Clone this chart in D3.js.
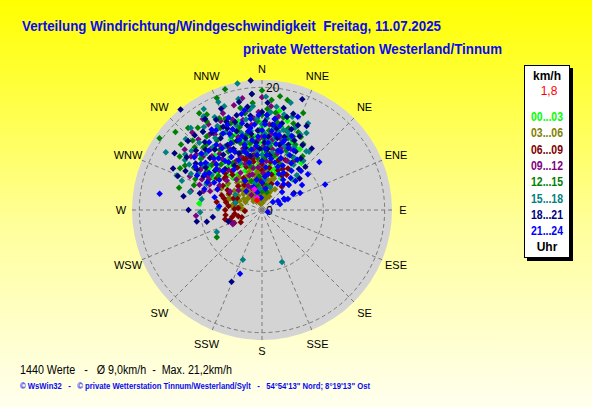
<!DOCTYPE html>
<html>
<head>
<meta charset="utf-8">
<script src="https://cdn.jsdelivr.net/npm/d3@7.9.0/dist/d3.min.js"></script>
<style>
  body { margin: 0; }
  svg { display: block; font-family: "Liberation Sans", Arial, sans-serif; }
  text { white-space: pre; }
</style>
</head>
<body>
<svg id="chart" width="592" height="407"></svg>
<script>
// hour groups, drawn in this order (last one ends up on top)
const hourLabels = ['00...03', '03...06', '06...09', '09...12', '12...15', '15...18', '18...21', '21...24'];
const hourColors = ['#00ff00', '#808000', '#800000', '#800080', '#008000', '#008080', '#000080', '#0000ff'];
const compass = ['N', 'NNE', 'NE', 'ENE', 'E', 'ESE', 'SE', 'SSE', 'S', 'SSW', 'SW', 'WSW', 'W', 'WNW', 'NW', 'NNW'];
const ringValues = [10, 20];
const ringLabels = [0, 20];
const maxSpeed = 21.2;
const currentSpeed = 1.8;

// [direction in degrees, speed km/h] per 3h block
const h00 = [[10,16.4],[16,15.1],[32,11.7],[347,10.7],[276,10.3],[319,11.8],[355,12],[358,11],[0,10],[2,9],[5,8.5],[357,13],[352,9.5],[348,8],[345,7],[340,6.5],[335,8],[330,9],[325,7],[320,6],[350,5],[355,6],[0,7],[5,6],[10,7.5],[15,9],[20,8],[25,10],[12,12],[8,13.5],[3,14],[358,14.5],[350,12.5],[343,11.5],[338,10],[332,11],[328,12],[322,10],[315,8],[310,9.5],[305,7],[300,8],[312,5],[340,4],[350,3.5],[0,4.5],[10,5],[18,6],[22,11],[28,9],[35,8],[40,10],[45,7],[15,3],[330,4.5],[345,15],[5,16],[0,12.5],[355,9],[348,10.5],
  [352,6.5],[356,7.5],[1,8],[4,9.5],[7,10.5],[11,11],[14,10],[17,7],[21,6.5],[26,7.5],[31,6],[36,10],[342,9],[337,7],[333,6],[327,8.5],[323,9],[318,7],[313,10],[308,11],[303,9.5],[298,10],[346,12],[341,13],[336,12.5],[0,13.5],[4,12],[9,11.5],[13,14],[19,13],[24,12],[29,11.5],[354,10.5],[359,5.5],[6,4],[12,6.5],[350,7],[345,9.5],[338,5.5],[328,10],
  [355,3],[5,2.5],[345,4],[15,4.5],[335,3.5]];
const h03 = [[350,2],[355,2.5],[345,3],[340,3.5],[335,2.5],[330,3],[325,4],[320,3.5],[315,4.5],[310,5],[305,5.5],[300,5],[295,6],[290,5.5],[287,5.8],[285,6],[352,4],[358,3],[2,2],[5,3.5],[10,2.5],[15,3],[20,2],[25,3.5],[0,1.5],[345,1.5],[330,1.8],[340,5],[350,5.5],[0,5],[355,6.5],[345,7],[335,6],[325,6.5],[318,6],[308,7],[298,7.5],[5,4.5],[12,4],[348,4.5],[338,4],[328,5],[322,5],[312,3],[302,3.5],[292,4],[280,4.5],[275,3.5],[270,3],[0,3],[7,5.5],[2,7],[357,8],[347,8.5],[337,9],
  [348,1],[353,1.2],[0,2.5],[3,1.2],[8,1.8],[12,3],[18,4.5],[22,3],[28,2.5],[32,4],[341,2],[336,1.5],[331,2.2],[326,3],[321,2.5],[316,2],[311,4],[306,3],[301,4.5],[296,3],[291,5],[286,4.5],[282,3.5],[278,5],[356,4.5],[351,6],[346,5],[341,6.5],[336,5],[331,6],[326,5.5],[321,4.5],[316,5.5],[1,6],[6,6.5],[11,5],[16,5],[21,5.5],[343,4],[333,3.5]];
const h06 = [[256,6.2],[257,5],[267,2.8],[275,3.9],[262,4.5],[250,3.5],[245,5],[240,4],[262,6],[255,4],[252,5.5],[272,4.5],[277,5.5],[282,6],[287,6.5],[292,5],[297,6],[270,6],[280,7.5],[290,7],[300,6.5],[285,4.5],[295,4.5],[302,7.5],[312,8],[310,8],[305,9],[295,8],
  [330,6],[340,7.5],[350,8.5],[0,6.5],[10,7],[20,4.5],[30,6.5],[345,3.5],[5,4],[315,5.5],[325,5],[355,5],[15,6],
  [340,9],[330,8],[320,7.5],[350,8],[0,7.5],[10,8],[18,8.5],[25,9],[5,9.5],[355,10],[345,9],[335,8.5],[325,9.5],[315,8.5],[33,9.5],[342,8.5],[352,9],[2,8.5],[12,9],[332,9],[322,8],[40,5],[35,7],[45,6],[27,7.5],[32,8],[22,7]];
const h09 = [[350,18.5],[327,17.7],[0,18.4],[345,17.7],[244,5.3],[265,10.8],[246,5.2],[300,10],[305,12],[310,14],[315,11],[320,13],[325,15],[330,10],[335,12],[340,14],[345,11],[350,13],[355,15],[0,12],[5,14],[10,10],[15,12],[20,9],[25,11],[340,8],[330,7],[320,8.5],[310,7.5],[300,8],[290,9],[285,12],[295,13],[350,9],[0,8],[358,16],[352,16.5],[342,15.5],[335,16],[328,14.5],[318,15.5],[308,16],[5,17],[10,15.5],[2,6],[345,6],[335,4],[325,3],[312,11],[302,10.5],[292,11],[338,9.5],[348,7],[8,11.5],[18,13.5],
  [352,10],[357,11.5],[2,10.5],[7,12.5],[12,13],[17,10.5],[22,11],[27,9],[342,12.5],[337,13.5],[332,11.5],[327,12.5],[322,10.5],[317,12],[312,13],[307,14.5],[302,13],[297,11],[347,9],[343,10.5],[333,9],[323,11.5],[313,9.5],[303,12],[296,9.5],[288,10],[355,7],[5,8],[15,9.5],[340,6],[330,5.5],[320,6.5],[310,5],[300,6],[353,14],[3,15.5],[348,15],[338,17],[328,16.5],[318,17],
  [350,3],[330,4.5],[5,3.5]];
const h12 = [[343,20.6],[338,19.7],[305,20.4],[309,17],[327,18.8],[290,11.8],[239,8.6],[9,18.8],[13,18.4],[23,17.2],[32,12.7],[330,18],[335,16.5],[340,15],[345,14],[350,16],[355,17.5],[0,15.5],[5,13],[10,14.5],[15,11],[20,12.5],[25,14],[30,10],[320,14],[315,16],[310,13],[305,11],[300,14.5],[295,12],[325,12],[330,11],[340,10],[350,11],[0,10],[358,13],[348,12.5],[338,13],[328,9],[318,10],[308,9],[12,9],[22,8],[2,8.5],[355,19],[0,19.5],[5,18],[20,15],[318,18],[322,17],[312,19],[297,15],[285,14],
  [352,12],[357,14.5],[2,11.5],[7,10.5],[12,12.5],[17,13.5],[22,10.5],[27,12],[32,9],[37,11],[342,11.5],[337,12],[332,14],[327,13.5],[322,12.5],[317,14],[312,11],[307,12.5],[302,13],[297,10],[347,10],[343,13.5],[333,15],[323,15],[313,15],[303,16],[353,15],[3,16.5],[8,16],[13,15.5],[18,14],[23,13],[28,13.5],[348,17],[338,16],[328,17],[355,8.5],[5,9.5],[345,7.5],[335,9],
  [350,4],[0,3],[340,5],[10,4],[345,2.5],[355,5.5],[15,3]];
const h15 = [[349,21],[301,18.3],[292,15],[290,13.9],[319,17.7],[306,15.5],[27,13.8],[30,14.5],[201,8.7],[159,9.1],[244,8.2],[268,10.1],[32,12.5],[39,12.2],[15,18.1],[284,12.1],[272,7.2],[285,4.5],[355,17],[350,15],[345,13],[340,16],[335,14],[330,12],[325,16.5],[320,11],[315,13],[310,15],[305,10],[300,12],[0,14],[5,16],[10,12],[15,13.5],[20,11],[25,10],[35,9],[45,8],[355,11],[345,10],[335,10.5],[0,9],[10,9.5],[20,13],[340,18],[330,19],[2,18.5],[310,11.5],[295,10],[280,10],[18,16],[8,15],[28,16],
  [352,13],[357,15],[2,12.5],[7,11],[12,13],[17,12],[22,14.5],[27,11.5],[32,10],[37,12],[342,12],[337,13],[332,15.5],[327,14],[322,13],[317,15],[312,13.5],[307,12],[302,14],[297,13],[347,11.5],[343,14.5],[333,17],[323,16],[313,17],[303,15],[353,16.5],[3,15],[8,17],[13,16],[18,13.5],[23,12.5],[40,10.5],[348,18.5],[338,19],[328,18],[355,9.5],[5,10.5],[345,8],[335,8.5],
  [345,4.5],[355,3.5],[5,5],[20,4],[300,5]];
const h18 = [[355,21.2],[321,21.1],[292,14.8],[318,16.4],[305,13.2],[260,10.8],[258,9.2],[262,8.1],[251,5.8],[203,12.7],[20,19.2],[15,15.7],[39,12.9],[62,5.9],[338,17.8],[355,19],[350,14],[345,16],[340,12],[335,15],[330,13.5],[325,11],[320,14.5],[315,12],[310,10],[305,15],[300,11],[0,16],[5,12],[10,13.5],[15,11],[20,14],[25,12.5],[30,11],[358,10],[348,9],[338,10],[328,8.5],[318,9],[8,9],[2,14.5],[352,17],[12,17],[28,15.5],[295,16],[285,10.5],[280,13],[270,12],[45,10],[50,8],
  [352,12.5],[357,13],[2,11],[7,14],[12,12],[17,12.5],[22,11.5],[27,13.5],[32,12.5],[37,10.5],[342,13.5],[337,14.5],[332,12],[327,15],[322,12.5],[317,13.5],[312,14.5],[307,11.5],[302,12.5],[297,14],[347,12],[343,15],[333,16.5],[323,16],[313,16.5],[303,17],[353,15.5],[3,17.5],[8,15],[13,14.5],[18,16.5],[23,15],[42,9],[348,18],[338,15.5],[328,17.5],[355,11],[5,10],[345,10.5],[335,11]];
const h21 = [[279,16.9],[50,12.2],[52,9.5],[68,11.1],[49,7.2],[66,6.8],[199,11],[21,16.3],[54,2.2],[72,3.1],[66,4.1],[67,4.6],[61,3],[48,4.4],[63,5.7],[108,1],[58,7.7],[63,4],[350,13],[345,11],[340,14],[335,12],[330,10],[325,13],[320,11],[315,9],[310,12],[305,10.5],[300,9],[0,13],[355,14],[5,11],[10,12.5],[15,10],[20,9],[25,8],[30,7],[35,6],[40,5.5],[45,9],[355,9],[350,10],[0,8],[5,7],[10,6],[345,8],[335,9],[325,8],[330,15],[340,16],[350,16.5],[358,15.5],[8,15],[12,14],[318,13],[308,14],[298,12],[290,10],[285,8],[275,7],[345,12.5],[352,11.5],[3,10],[2,12],[18,12],[28,11],[35,10],
  [352,13.5],[357,12],[2,14],[7,13],[12,11],[17,11.5],[22,13],[27,10],[32,9],[37,8],[342,12],[337,13.5],[332,11],[327,12],[322,14],[317,11.5],[312,10],[307,12.5],[302,11],[297,10],[347,14.5],[343,10],[333,14],[323,10],[313,13.5],[303,13],[353,15],[3,15.5],[8,14],[13,12.5],[18,10],[23,11],[42,7],[47,6],[348,16],[338,15],[328,15.5],[355,10.5],[5,9],[345,9.5],[335,10.5],[325,9.5],[315,10.5],[305,8.5],[295,8],[15,8],[25,6.5],[30,5],[20,7.5],[10,8.5],
  [340,4],[350,5],[0,4.5],[330,5.5],[10,3.5],[345,3],[355,2],[320,4],[5,5.5]];
const hourGroups = [h00, h03, h06, h09, h12, h15, h18, h21];
// last readings near the centre
const latest = [[340,3.6],[338,2.2]];
const current = [[333,1.8]];

const svg = d3.select('#chart');
const W = 592, H = 407;
const cx = 262, cy = 210, R = 130;
const blueText = '#0a0af0';

const defs = svg.append('defs');
const grad = defs.append('linearGradient').attr('id', 'bg').attr('x1', 0).attr('y1', 0).attr('x2', 0).attr('y2', 1);
grad.append('stop').attr('offset', '0%').attr('stop-color', '#ffff00');
grad.append('stop').attr('offset', '55%').attr('stop-color', '#ffff9a');
grad.append('stop').attr('offset', '100%').attr('stop-color', '#ffffee');
svg.append('rect').attr('width', W).attr('height', H).attr('fill', 'url(#bg)');

// titles
svg.append('text').attr('x', 22).attr('y', 31)
  .attr('font-size', 14).attr('font-weight', 'bold').attr('fill', blueText)
  .attr('textLength', 419).attr('lengthAdjust', 'spacingAndGlyphs')
  .text('Verteilung Windrichtung/Windgeschwindigkeit  Freitag, 11.07.2025');
svg.append('text').attr('x', 243).attr('y', 54)
  .attr('font-size', 14).attr('font-weight', 'bold').attr('fill', blueText)
  .attr('textLength', 259).attr('lengthAdjust', 'spacingAndGlyphs')
  .text('private Wetterstation Westerland/Tinnum');

const r = d3.scaleLinear().domain([0, maxSpeed]).range([0, R]);
const rad = (deg) => deg * Math.PI / 180;

const polar = svg.append('g').attr('transform', `translate(${cx},${cy})`);
polar.append('circle').attr('r', R).attr('fill', '#d4d4d4');

// spokes
polar.selectAll('line.spoke').data(compass).join('line')
  .attr('class', 'spoke')
  .attr('x1', 0).attr('y1', 0)
  .attr('x2', (d, i) => d3.pointRadial(rad(i * 22.5), R)[0])
  .attr('y2', (d, i) => d3.pointRadial(rad(i * 22.5), R)[1])
  .attr('stroke', '#7a7a7a').attr('stroke-dasharray', '4,3');

polar.selectAll('circle.ring').data(ringValues).join('circle')
  .attr('class', 'ring').attr('r', (d) => r(d))
  .attr('fill', 'none').attr('stroke', '#7a7a7a').attr('stroke-dasharray', '4,3');

polar.selectAll('text.ringlab').data(ringLabels).join('text')
  .attr('class', 'ringlab')
  .attr('x', 4).attr('y', (d) => -r(d) + 5)
  .attr('font-size', 12).attr('fill', '#000')
  .text((d) => d);

// compass labels
polar.selectAll('text.dir').data(compass).join('text')
  .attr('class', 'dir')
  .attr('x', (d, i) => d3.pointRadial(rad(i * 22.5), i % 4 === 0 ? 141 : 145)[0])
  .attr('y', (d, i) => d3.pointRadial(rad(i * 22.5), i % 4 === 0 ? 141 : 145)[1] + 4)
  .attr('text-anchor', 'middle').attr('font-size', 11).attr('fill', '#000')
  .text((d) => d);

// points
const diamond = d3.symbol().type(d3.symbolSquare).size(21);
const place = (d) => {
  const [x, y] = d3.pointRadial(rad(d[0]), r(d[1]));
  return `translate(${x},${y}) rotate(45)`;
};
hourGroups.forEach((group, gi) => {
  polar.append('g').selectAll('path').data(group).join('path')
    .attr('d', diamond)
    .attr('transform', place)
    .attr('fill', hourColors[gi]);
});
polar.append('g').selectAll('path').data(latest).join('path')
  .attr('d', diamond).attr('transform', place).attr('fill', '#ff00ff');
polar.append('g').selectAll('path').data(current).join('path')
  .attr('d', diamond).attr('transform', place).attr('fill', '#ff0000');

// legend box
const lg = svg.append('g');
lg.append('rect').attr('x', 527).attr('y', 68).attr('width', 46).attr('height', 193).attr('fill', '#000');
lg.append('rect').attr('x', 524.5).attr('y', 65.5).attr('width', 45).attr('height', 192)
  .attr('fill', '#fff').attr('stroke', '#000');
lg.append('text').attr('x', 547).attr('y', 80).attr('text-anchor', 'middle')
  .attr('font-size', 12).attr('font-weight', 'bold').text('km/h');
lg.append('text').attr('x', 549).attr('y', 95).attr('text-anchor', 'middle')
  .attr('font-size', 12).attr('fill', '#ff0000').text(String(currentSpeed).replace('.', ','));
lg.selectAll('text.hr').data(hourLabels).join('text')
  .attr('class', 'hr')
  .attr('x', 547).attr('y', (d, i) => 121 + i * 16.3)
  .attr('text-anchor', 'middle').attr('font-size', 12).attr('font-weight', 'bold')
  .attr('textLength', 32).attr('lengthAdjust', 'spacingAndGlyphs')
  .attr('fill', (d, i) => hourColors[i])
  .text((d) => d);
lg.append('text').attr('x', 547).attr('y', 251).attr('text-anchor', 'middle')
  .attr('font-size', 12).attr('font-weight', 'bold').text('Uhr');

// footer
svg.append('text').attr('x', 20).attr('y', 374).attr('font-size', 12).attr('fill', '#000')
  .attr('textLength', 212).attr('lengthAdjust', 'spacingAndGlyphs')
  .text('1440 Werte   -   Ø 9,0km/h  -  Max. 21,2km/h');
svg.append('text').attr('x', 20).attr('y', 389).attr('font-size', 9).attr('font-weight', 'bold')
  .attr('fill', blueText).attr('textLength', 350).attr('lengthAdjust', 'spacingAndGlyphs')
  .text('© WsWin32   -   © private Wetterstation Tinnum/Westerland/Sylt   -   54°54\'13" Nord; 8°19\'13" Ost');
</script>
</body>
</html>
